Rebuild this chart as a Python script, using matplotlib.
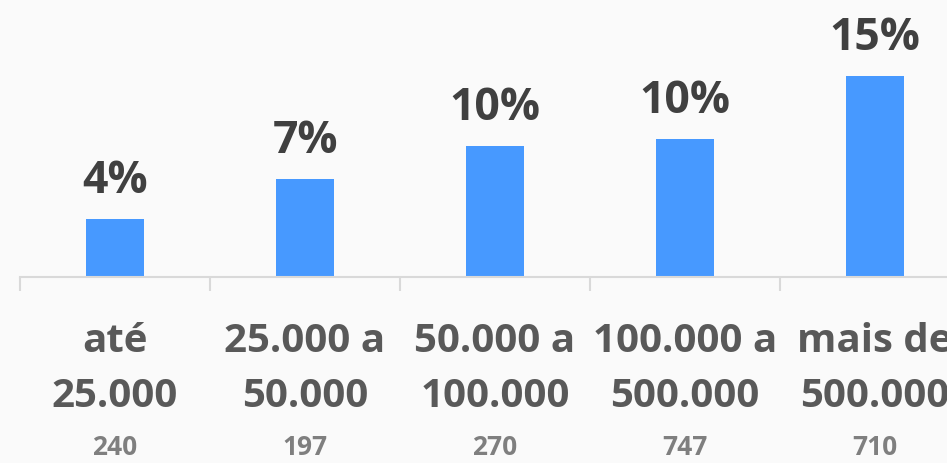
import matplotlib
matplotlib.use("Agg")
import matplotlib.pyplot as plt
import numpy as np

# faixas de população
line1 = ['até', '25.000 a', '50.000 a', '100.000 a', 'mais de']
line2 = ['25.000', '50.000', '100.000', '500.000', '500.000']
values = [4.3, 7.3, 9.8, 10.3, 15.0]
pct_labels = ['4%', '7%', '10%', '10%', '15%']
counts = ['240', '197', '270', '747', '710']

plt.rcParams['font.family'] = ['Open Sans', 'DejaVu Sans']
plt.rcParams['font.weight'] = 'bold'

W, H = 947, 463
fig = plt.figure(figsize=(W / 100, H / 100), dpi=100, facecolor='#fafafa')
ax = fig.add_axes([20 / W, 1 - 277 / H, 1 - 20 / W, 277 / H])
ax.set_facecolor('none')

x = np.arange(len(values))
ax.bar(x, values, width=0.31, color='#4799ff', zorder=2)

for s in ['top', 'right', 'left']:
    ax.spines[s].set_visible(False)
ax.spines['bottom'].set_color('#d9d9d9')
ax.spines['bottom'].set_linewidth(1.5)
ax.set_yticks([])
ax.set_xticks([])
ax.set_xticks(np.arange(-0.5, len(values) + 0.5, 1), minor=True)
ax.tick_params(axis='x', which='minor', length=10, width=1.5, color='#d9d9d9',
               labelbottom=False)

# limits after ticks (set_xticks can widen the view)
ax.set_xlim(-0.5, -0.5 + 927 / 190)
ax.set_ylim(0, 277 / 13.4)

px = 72 / 100  # pixel -> point

for i, v in enumerate(values):
    ax.annotate(pct_labels[i], xy=(i, v), xytext=(0, 26 * px), textcoords='offset points',
                ha='center', va='baseline', fontsize=32, fontweight='bold', color='#404040')
    ax.annotate(line1[i], xy=(i, 0), xycoords=('data', 'axes fraction'), xytext=(0, -75 * px),
                textcoords='offset points', ha='center', va='baseline', fontsize=29,
                fontweight='bold', color='#595959', annotation_clip=False)
    ax.annotate(line2[i], xy=(i, 0), xycoords=('data', 'axes fraction'), xytext=(0, -130 * px),
                textcoords='offset points', ha='center', va='baseline', fontsize=29,
                fontweight='bold', color='#595959', annotation_clip=False)
    ax.annotate(counts[i], xy=(i, 0), xycoords=('data', 'axes fraction'), xytext=(0, -178 * px),
                textcoords='offset points', ha='center', va='baseline', fontsize=19,
                fontweight='bold', color='#7f7f7f', annotation_clip=False)

fig.savefig('out.png', dpi=100, facecolor=fig.get_facecolor())
